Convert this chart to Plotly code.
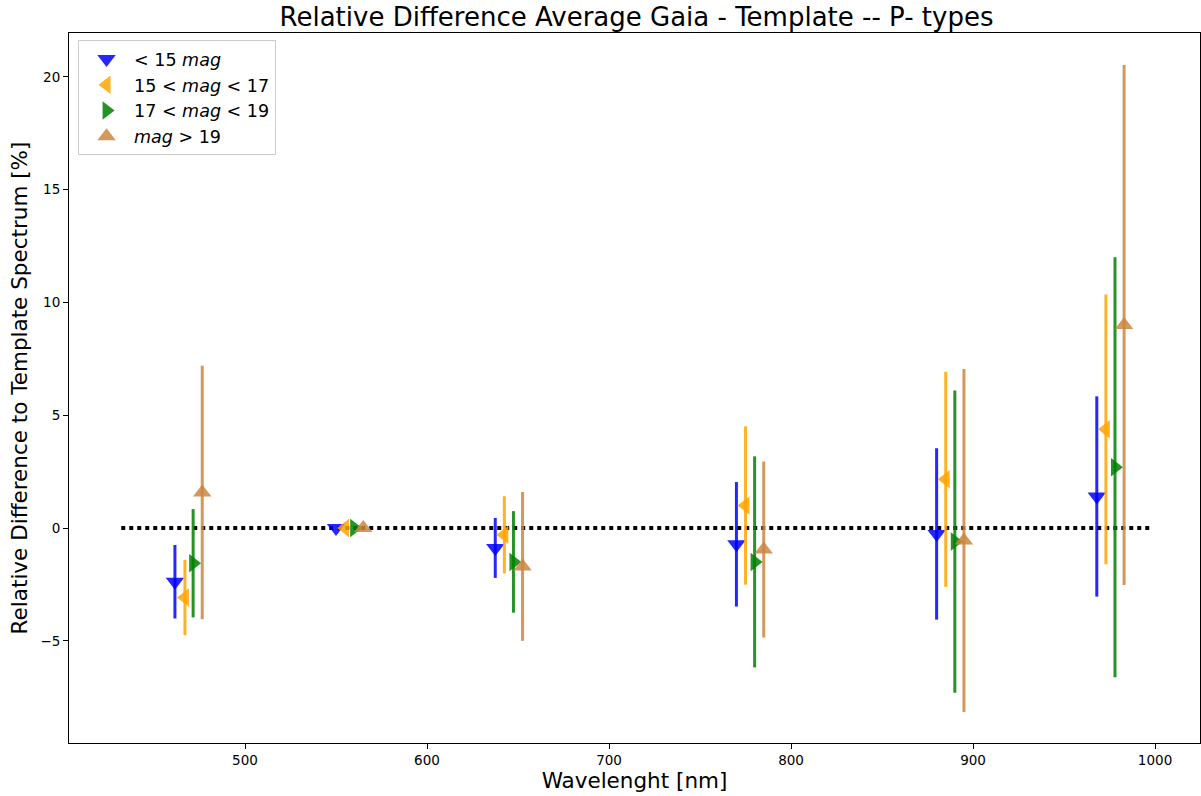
import plotly.graph_objects as go

# Wavelength positions (nm) of each magnitude bin, slightly offset per bin
wl_bright = [461.5, 550, 637.5, 770, 880, 968]
wl_mid1 = [467, 555, 642.5, 775, 885, 973]
wl_mid2 = [471.5, 560, 647.5, 780, 890, 978]
wl_faint = [476.5, 565, 652.5, 785, 895, 983]

# Relative difference (%) and its 1-sigma spread
diff_bright = [-2.38, 0.0, -0.88, -0.72, -0.26, 1.40]
err_bright = [1.63, 0.0, 1.33, 2.76, 3.80, 4.44]

diff_mid1 = [-3.08, 0.0, -0.30, 1.00, 2.16, 4.38]
err_mid1 = [1.67, 0.0, 1.71, 3.51, 4.77, 5.98]

diff_mid2 = [-1.56, 0.0, -1.50, -1.50, -0.60, 2.70]
err_mid2 = [2.40, 0.0, 2.25, 4.68, 6.70, 9.31]

diff_faint = [1.58, 0.0, -1.70, -0.95, -0.55, 9.00]
err_faint = [5.62, 0.0, 3.30, 3.90, 7.60, 11.53]

zero_line_x = [432, 997]
zero_line_y = [0, 0]

series = [
    ("&lt; 15 <i>mag</i>", wl_bright, diff_bright, err_bright,
     "rgba(0,0,255,0.85)", "triangle-down"),
    ("15 &lt; <i>mag</i> &lt; 17", wl_mid1, diff_mid1, err_mid1,
     "rgba(255,165,0,0.85)", "triangle-left"),
    ("17 &lt; <i>mag</i> &lt; 19", wl_mid2, diff_mid2, err_mid2,
     "rgba(0,128,0,0.85)", "triangle-right"),
    ("<i>mag</i> &gt; 19", wl_faint, diff_faint, err_faint,
     "rgba(205,133,63,0.85)", "triangle-up"),
]

fig = go.Figure()

fig.add_trace(go.Scatter(
    x=zero_line_x, y=zero_line_y, mode="lines",
    line=dict(color="black", width=4, dash="dot"),
    showlegend=False, hoverinfo="skip",
))

for name, x, y, e, col, sym in series:
    fig.add_trace(go.Scatter(
        x=x, y=y, mode="markers", name=name,
        marker=dict(symbol=sym, size=16, color=col, line=dict(width=0)),
        error_y=dict(type="data", array=e, visible=True,
                     color=col, thickness=3, width=0),
    ))

axis_common = dict(
    showline=True, linecolor="black", linewidth=1, mirror=True,
    ticks="outside", ticklen=5, tickcolor="black", tickwidth=1,
    showgrid=False, zeroline=False,
    tickfont=dict(family="DejaVu Sans", size=13.5, color="black"),
)

fig.update_layout(
    width=1201, height=796,
    paper_bgcolor="white", plot_bgcolor="white",
    margin=dict(l=69, r=1, t=33, b=53),
    title=dict(
        text="Relative Difference Average Gaia - Template -- P- types",
        x=0.53, xanchor="center", y=0.99, yanchor="top",
        font=dict(family="DejaVu Sans", size=26, color="black"),
    ),
    xaxis=dict(
        range=[403.3, 1024.7], tickvals=[500, 600, 700, 800, 900, 1000],
        title=dict(text="Wavelenght [nm]", standoff=4,
                   font=dict(family="DejaVu Sans", size=21.5, color="black")),
        **axis_common,
    ),
    yaxis=dict(
        range=[-9.53, 21.95], tickvals=[-5, 0, 5, 10, 15, 20],
        title=dict(text="Relative Difference to Template Spectrum [%]", standoff=6,
                   font=dict(family="DejaVu Sans", size=21.5, color="black")),
        **axis_common,
    ),
    legend=dict(
        x=0.008, y=0.99, xanchor="left", yanchor="top",
        bgcolor="white", bordercolor="#cccccc", borderwidth=1,
        font=dict(family="DejaVu Sans", size=17.5, color="black"),
        itemsizing="trace", itemwidth=45, tracegroupgap=0,
    ),
    showlegend=True,
)

fig.write_html("out.html")
